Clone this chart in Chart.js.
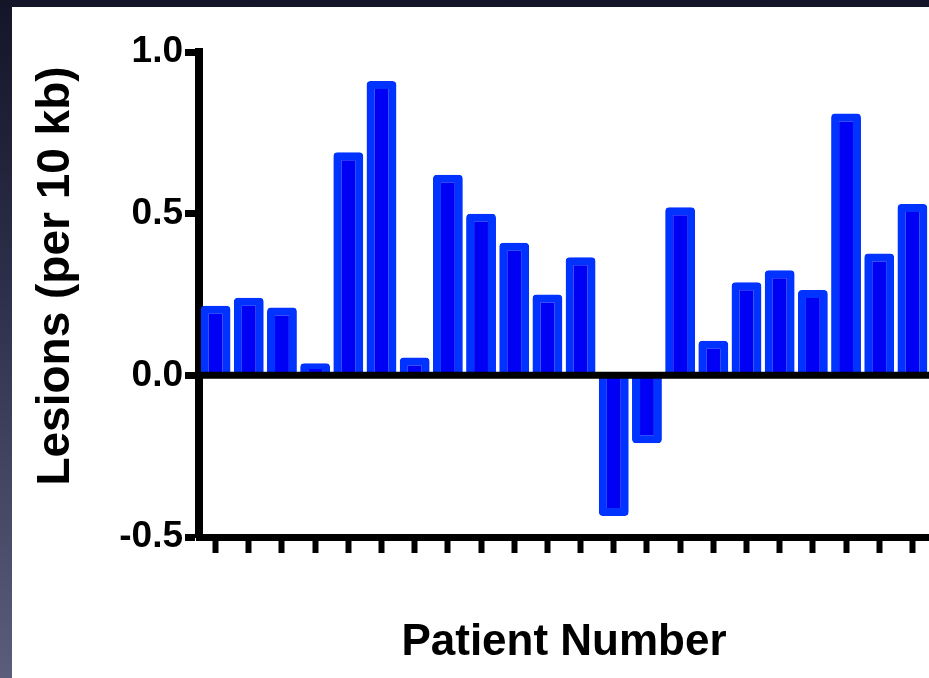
<!DOCTYPE html>
<html>
<head>
<meta charset="utf-8">
<script src="https://cdn.jsdelivr.net/npm/chart.js@4/dist/chart.umd.min.js"></script>
<style>
  html, body { margin: 0; padding: 0; overflow: hidden; }
  body {
    width: 929px; height: 678px; position: relative;
    background: linear-gradient(to bottom, #141528 0%, #2c2d48 40%, #5a5e7a 100%);
  }
  #sheet { position: absolute; left: 12px; top: 7px; right: 0; bottom: 0; background: #ffffff; }
  #chart { position: absolute; left: 0; top: 0; }
</style>
</head>
<body>
<div id="sheet"></div>
<canvas id="chart" width="929" height="678"></canvas>
<script>
// Lesion frequency per patient (lesions per 10 kb)
const patients = ['1','2','3','4','5','6','7','8','9','10','11','12','13','14','15','16','17','18','19','20','21','22'];
const lesions  = [0.215, 0.24, 0.21, 0.037, 0.69, 0.91, 0.055, 0.62, 0.50, 0.41, 0.25, 0.365,
                  -0.435, -0.21, 0.52, 0.107, 0.288, 0.325, 0.264, 0.81, 0.377, 0.53];
const yTicks   = [-0.5, 0.0, 0.5, 1.0];
const yTitle   = 'Lesions (per 10 kb)';
const xTitle   = 'Patient Number';

const FONT = '"Liberation Sans", Arial, Helvetica, sans-serif';

// Heavy baseline at zero, drawn over the bars
const zeroLine = {
  id: 'zeroLine',
  afterDatasetsDraw(chart) {
    const { ctx, chartArea, scales } = chart;
    const y = scales.y.getPixelForValue(0);
    ctx.save();
    ctx.strokeStyle = '#000';
    ctx.lineWidth = 7;
    ctx.beginPath();
    ctx.moveTo(chartArea.left, y);
    ctx.lineTo(chartArea.right, y);
    ctx.stroke();
    ctx.restore();
  }
};

// Rotated y-axis title
const yAxisTitle = {
  id: 'yAxisTitle',
  afterDraw(chart) {
    const { ctx } = chart;
    ctx.save();
    ctx.translate(56, 276);
    ctx.rotate(-Math.PI / 2);
    ctx.font = 'bold 46px ' + FONT;
    ctx.fillStyle = '#000';
    ctx.textAlign = 'center';
    ctx.textBaseline = 'middle';
    ctx.fillText(yTitle, 0, 0);
    ctx.restore();
  }
};

new Chart(document.getElementById('chart'), {
  type: 'bar',
  data: {
    labels: patients,
    datasets: [{
      data: lesions,
      backgroundColor: '#0000f5',
      borderColor: '#0033ff',
      borderWidth: 8,
      borderRadius: 4,
      borderSkipped: 'start',
      categoryPercentage: 1.0,
      barPercentage: 0.9
    }]
  },
  options: {
    responsive: false,
    devicePixelRatio: 1,
    animation: false,
    layout: { padding: { top: 52, right: 0, bottom: 0, left: 0 } },
    plugins: { legend: { display: false }, tooltip: { enabled: false } },
    scales: {
      x: {
        type: 'category',
        grid: { offset: false, drawOnChartArea: false, drawTicks: true, tickLength: 16, tickWidth: 6, tickColor: '#000' },
        border: { display: true, color: '#000', width: 7 },
        ticks: { display: false, autoSkip: false },
        title: {
          display: true, text: xTitle, color: '#000',
          font: { family: FONT, size: 44, weight: 'bold' },
          padding: { top: 0, bottom: 9 }
        },
        afterFit(scale) { scale.height = 141; }
      },
      y: {
        min: -0.5, max: 1.0,
        afterBuildTicks(scale) { scale.ticks = yTicks.map(v => ({ value: v })); },
        grid: { drawOnChartArea: false, drawTicks: true, tickLength: 14, tickWidth: 7, tickColor: '#000' },
        border: { display: true, color: '#000', width: 8 },
        ticks: {
          color: '#000', padding: 2,
          font: { family: FONT, size: 37, weight: 'bold' },
          callback: v => Number(v).toFixed(1)
        },
        afterFit(scale) { scale.width = 199; }
      }
    }
  },
  plugins: [zeroLine, yAxisTitle]
});
</script>
</body>
</html>
